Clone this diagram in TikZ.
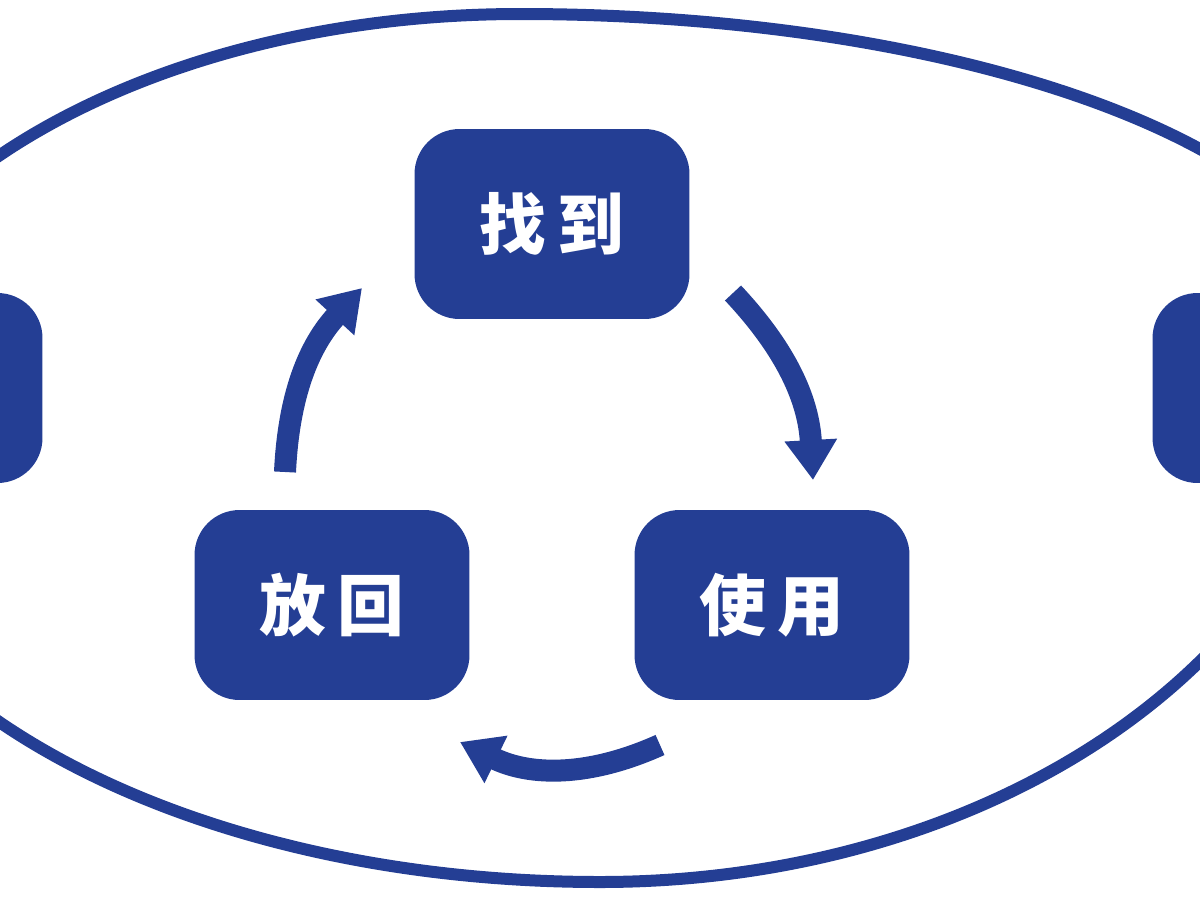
\documentclass[tikz,border=0pt]{standalone}
\usepackage{fontspec}
\newfontfamily\cjk{Noto Sans CJK SC}
\usepackage{tikz}
\usetikzlibrary{arrows.meta}
\definecolor{navy}{RGB}{36,62,148}

\begin{document}
\begin{tikzpicture}[x=0.02cm,y=-0.02cm,
  stage/.style={fill=navy,rounded corners=0.9cm,minimum width=5.5cm,minimum height=3.8cm,
    text=white,font=\cjk\bfseries\fontsize{38}{44}\selectfont},
  turn/.style={draw=navy,line width=0.44cm,-{Triangle[length=0.8cm,width=1cm]}}]
\useasboundingbox (0,0) rectangle (1200,900);
\clip (0,0) rectangle (1200,900);
% hand-drawn outer loop
\draw[navy,line width=0.24cm] (-180,440) .. controls (-180,205) and (134,14) .. (520,14)
  .. controls (978,14) and (1350,156) .. (1350,330)
  .. controls (1350,635) and (1014,882) .. (600,882)
  .. controls (169,882) and (-180,684) .. cycle;
\node[stage] (zhaodao) at (552,224) {找\,到};
\node[stage] (fanghui) at (332,605) {放\,回};
\node[stage] (shiyong) at (772,605) {使\,用};
\node[stage] (leftbox) at (-95,388) {};
\node[stage] (rightbox) at (1290,388) {};
\coordinate (a1) at (285,472); \coordinate (a2) at (362,288);
\coordinate (b1) at (733,293); \coordinate (b2) at (813,480);
\coordinate (c1) at (660,745); \coordinate (c2) at (460,742);
\draw[turn] (a1) to[bend left=20] (a2);
\draw[turn] (b1) to[bend left=20] (b2);
\draw[turn] (c1) to[bend left=25] (c2);
\end{tikzpicture}
\end{document}
